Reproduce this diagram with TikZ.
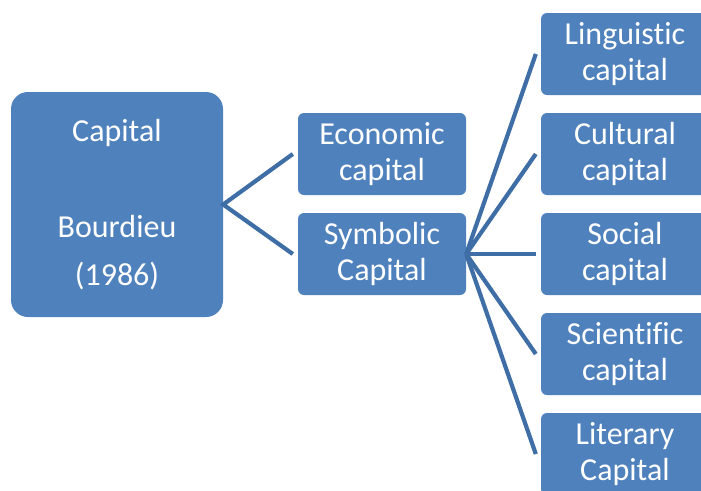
\documentclass[tikz,border=0pt]{standalone}
\usepackage{fontspec}
\setmainfont{Carlito}[Ligatures=NoCommon]
\usepackage{tikz}
\usetikzlibrary{positioning}
\definecolor{boxblue}{HTML}{4F81BD}
\definecolor{linkblue}{HTML}{3F6EA6}
\tikzset{
  capbox/.style={fill=boxblue,draw=none,text=white,align=center,inner sep=0pt,
    minimum width=168pt,minimum height=82pt,rounded corners=6pt,
    font=\fontsize{32}{36}\selectfont},
  link/.style={draw=linkblue,line width=4.2pt}
}

\begin{document}
\begin{tikzpicture}[x=1pt,y=-1pt]
\useasboundingbox (0,0) rectangle (701,490);
\clip (0,0) rectangle (701,490);
% root
\node[capbox,minimum width=212pt,minimum height=225pt,rounded corners=17pt,
  font=\fontsize{32}{48}\selectfont] (root) at (117,204.5) {Capital\\[0pt]~\\Bourdieu\\(1986)};
% second level
\node[capbox] (econ) at (382,154) {Economic\\capital};
\node[capbox] (symb) at (382,254) {Symbolic\\Capital};
% third level
\foreach \nm/\yy/\txt in {ling/54/{Linguistic\\capital}, cult/154/{Cultural\\capital},
    soc/254/{Social\\capital}, sci/354/{Scientific\\capital}, lit/454/{Literary\\Capital}}{
  \node[capbox] (\nm) at (625,\yy) {\txt};
}
\draw[link] ([xshift=-5pt]econ.west) -- (root.east) -- ([xshift=-5pt]symb.west);
\foreach \nm in {ling,cult,soc,sci,lit}
  \draw[link] (symb.east) -- ([xshift=-5pt]\nm.west);
\end{tikzpicture}
\end{document}
